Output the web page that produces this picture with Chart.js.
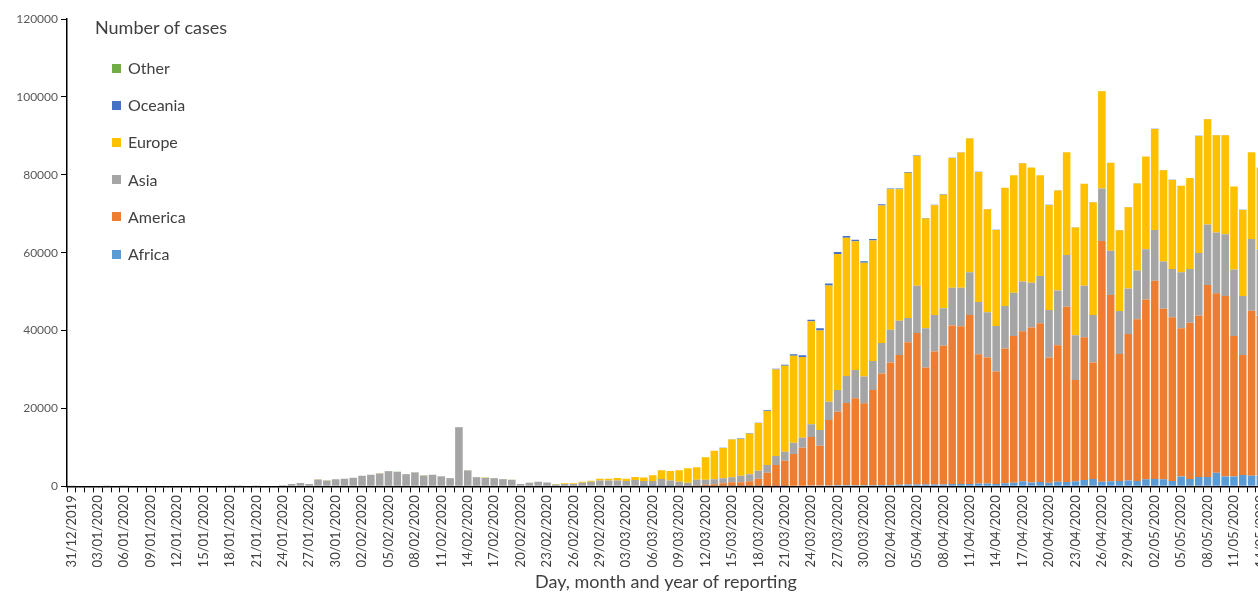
<!DOCTYPE html>
<html>
<head>
<meta charset="utf-8">
<title>Number of cases by continent</title>
<script src="https://cdn.jsdelivr.net/npm/chart.js@4.4.1/dist/chart.umd.min.js"></script>
<style>
  html, body { margin: 0; padding: 0; background: #fff; overflow: hidden; }
  #wrap { position: relative; width: 1279px; height: 593px; }
  #legend { position: absolute; left: 0; top: 0; font-family: Lato, "Open Sans", sans-serif; color: #404040; }
  #legend .title { position: absolute; left: 95px; top: 16px; font-size: 18px; white-space: nowrap; }
  #legend .item { position: absolute; left: 112px; font-size: 16px; line-height: 18px; white-space: nowrap; display: flex; align-items: center; }
  #legend .box { width: 9px; height: 9px; margin-right: 7px; }
</style>
</head>
<body>
<div id="wrap">
  <canvas id="chart" width="1279" height="593"></canvas>
  <div id="legend"></div>
</div>
<script>
// ── Days of reporting: 31/12/2019 → 14/05/2020 ──────────────────────────
const START_DAY = new Date(2019, 11, 31)
const N_DAYS = 136
const DAYS = []
for (let i = 0; i < N_DAYS; i++) {
  const d = new Date(START_DAY.getFullYear(), START_DAY.getMonth(), START_DAY.getDate() + i)
  const dd = String(d.getDate()).padStart(2, "0")
  const mm = String(d.getMonth() + 1).padStart(2, "0")
  DAYS.push(dd + "/" + mm + "/" + d.getFullYear())
}

// ── Daily cases per continent ───────────────────────────────────────────
const AFRICA = [
  0,0,0,0,0,0,0,0,0,0,
  0,0,0,0,0,0,0,0,0,0,
  0,0,0,0,0,0,0,0,0,0,
  0,0,0,0,0,0,0,0,0,0,
  0,0,0,0,0,0,0,0,0,0,
  0,0,0,0,0,0,0,0,0,0,
  0,0,0,0,0,5,10,10,15,20,
  20,30,30,40,50,50,60,70,80,90,
  100,100,150,150,200,200,200,250,250,300,
  300,300,350,350,400,450,500,500,450,500,
  600,600,600,700,700,600,800,900,1300,1000,
  1100,900,1200,1100,1300,1600,1900,1200,1300,1400,
  1500,1400,1800,1900,1800,1400,2500,1900,2400,2400,
  3500,2500,2500,2900,2700,2800
]
const AMERICA = [
  0,0,0,0,0,0,0,0,0,0,
  0,0,0,0,0,0,0,0,0,0,
  0,0,0,0,0,0,0,0,0,0,
  0,0,0,0,0,0,0,0,0,0,
  0,0,0,0,0,0,0,0,0,0,
  0,0,0,0,0,0,0,0,0,0,
  0,0,0,0,0,0,0,0,50,100,
  150,200,400,500,720,980,970,1210,1890,3420,
  5380,6490,8150,9780,12470,10240,16830,18930,21150,22300,
  21010,24440,28650,31450,33300,36550,38900,30000,34150,35600,
  40700,40500,43400,33200,32400,28900,34600,37700,38500,39800,
  40800,32200,35000,45000,26000,36700,29900,61800,47800,32600,
  37600,41500,46200,50900,43800,42000,38100,40100,41400,49300,
  46100,46400,36100,30800,42400,41000
]
const ASIA = [
  27,0,0,0,17,0,15,0,0,0,
  0,0,0,0,0,0,0,0,4,17,
  136,19,151,140,260,580,850,600,1750,1490,
  1840,1930,2190,2700,2950,3290,3880,3710,3130,3530,
  2780,2960,2530,2100,15150,4040,2330,2130,2050,1800,
  1630,590,880,1150,980,480,600,570,950,1150,
  1500,1500,1500,1400,1600,1350,1370,1880,1460,1030,
  770,1460,1230,1300,1280,1280,1710,1800,2050,1970,
  2310,2310,2910,2570,3250,4030,4710,5560,6930,7280,
  6860,7440,7800,8400,8800,6200,12100,10100,9400,9600,
  9700,9900,11000,13400,11600,11700,10900,11100,12800,11500,
  12100,12200,14100,13300,11500,13200,12200,13500,11400,11000,
  11700,12500,12900,13000,12100,12400,14400,13800,16100,15500,
  15600,15800,17100,15200,18400,17000
]
const EUROPE = [
  0,0,0,0,0,0,0,0,0,0,
  0,0,0,0,0,0,0,0,0,0,
  0,0,0,0,0,0,0,0,60,60,
  0,0,0,0,50,50,0,0,0,0,
  40,0,0,0,10,0,0,50,0,0,
  0,0,0,0,30,120,170,200,250,310,
  470,470,640,570,800,880,1460,2230,2430,2980,
  3700,3220,5820,7270,7790,9700,9440,10440,12210,13890,
  22230,22090,22340,20740,26480,25560,29860,34940,35520,33020,
  29260,30970,35300,36100,33800,37300,33300,28150,28200,29200,
  33300,34700,34300,33400,26450,24650,30350,30150,30350,29550,
  25850,26970,25670,26370,27670,26170,28970,24970,22570,20770,
  20870,22370,23770,25970,23470,22870,22170,23370,30070,27070,
  24970,25470,21270,22070,22270,21000
]
const OCEANIA = [
  0,0,0,0,0,0,0,0,0,0,
  0,0,0,0,0,0,0,0,0,0,
  0,0,0,0,0,0,0,0,0,0,
  0,0,0,0,0,0,0,0,0,0,
  0,0,0,0,0,0,0,0,0,0,
  0,0,0,0,0,0,0,0,0,0,
  0,0,0,0,0,0,0,0,0,0,
  0,10,15,20,40,60,70,90,120,150,
  200,250,350,400,400,550,450,500,450,400,
  350,350,300,200,200,200,150,150,100,100,
  100,100,100,100,50,50,50,50,50,50,
  50,30,30,30,30,30,30,30,30,30,
  30,30,30,30,30,30,30,30,30,30,
  30,30,30,30,30,30
]
const OTHER = [
  0,0,0,0,0,0,0,0,0,0,
  0,0,0,0,0,0,0,0,0,0,
  0,0,0,0,0,0,0,0,0,0,
  0,0,0,0,0,0,60,60,40,70,
  40,40,40,40,44,70,70,99,88,80,
  79,13,57,0,0,0,0,0,0,0,
  0,0,0,0,0,0,0,0,0,0,
  0,0,0,0,0,0,0,0,0,0,
  0,0,0,0,0,0,0,0,0,0,
  0,0,0,0,0,0,0,0,0,0,
  0,0,0,0,0,0,0,0,0,0,
  0,0,0,0,0,0,0,0,0,0,
  0,0,0,0,0,0,0,0,0,0,
  0,0,0,0,0,0
]

// Stack order bottom → top
const SERIES_NAMES  = ["Africa", "America", "Asia", "Europe", "Oceania", "Other"]
const SERIES_VALUES = [AFRICA, AMERICA, ASIA, EUROPE, OCEANIA, OTHER]
const SERIES_COLORS = ["#5B9BD5", "#ED7D31", "#A5A5A5", "#FFC000", "#4472C4", "#70AD47"]

const Y_MAX  = 120000
const Y_STEP = 20000

const FONT   = "Lato, 'Open Sans', sans-serif"
const TXT    = "#595959"
const AXIS   = "#000000"

const chart = new Chart(document.getElementById("chart"), {
  type: "bar",
  data: {
    labels: DAYS,
    datasets: SERIES_NAMES.map((name, i) => ({
      label: name,
      data: SERIES_VALUES[i],
      backgroundColor: SERIES_COLORS[i],
      borderWidth: 0,
      categoryPercentage: 0.86,
      barPercentage: 1
    }))
  },
  options: {
    responsive: false,
    animation: false,
    layout: { padding: { left: 0, top: 19, right: 0, bottom: 0 } },
    plugins: {
      legend: { display: false },
      tooltip: { enabled: false }
    },
    scales: {
      x: {
        stacked: true,
        grid: { display: true, drawOnChartArea: false, drawTicks: true, tickLength: 6, color: AXIS, lineWidth: 1 },
        border: { display: true, color: AXIS, width: 1.5 },
        ticks: {
          autoSkip: false,
          maxRotation: 90,
          minRotation: 90,
          padding: 3,
          color: "#404040",
          font: { family: FONT, size: 13 },
          callback: function (v, i) { return i % 3 === 0 ? this.getLabelForValue(v) : "" }
        },
        title: {
          display: true,
          text: "Day, month and year of reporting",
          color: "#404040",
          font: { family: FONT, size: 18 },
          padding: { top: 1, bottom: 0 }
        }
      },
      y: {
        stacked: true,
        min: 0,
        max: Y_MAX,
        afterFit: scale => { scale.width = 67 },
        grid: { display: true, drawOnChartArea: false, drawTicks: true, tickLength: 6, color: AXIS },
        border: { display: true, color: AXIS, width: 1.5 },
        ticks: {
          stepSize: Y_STEP,
          padding: 3,
          color: TXT,
          font: { family: FONT, size: 12 },
          callback: v => String(v)
        }
      }
    }
  }
})

// ── Legend (inside plot, reversed order) ────────────────────────────────
const legend = document.getElementById("legend")
const ttl = document.createElement("div")
ttl.className = "title"
ttl.textContent = "Number of cases"
legend.appendChild(ttl)
const order = SERIES_NAMES.map((_, i) => i).reverse()
order.forEach((si, k) => {
  const it = document.createElement("div")
  it.className = "item"
  it.style.top = (68 + k * 37.2 - 9) + "px"
  it.innerHTML = `<span class="box" style="background:${SERIES_COLORS[si]}"></span><span>${SERIES_NAMES[si]}</span>`
  legend.appendChild(it)
})
</script>
</body>
</html>
